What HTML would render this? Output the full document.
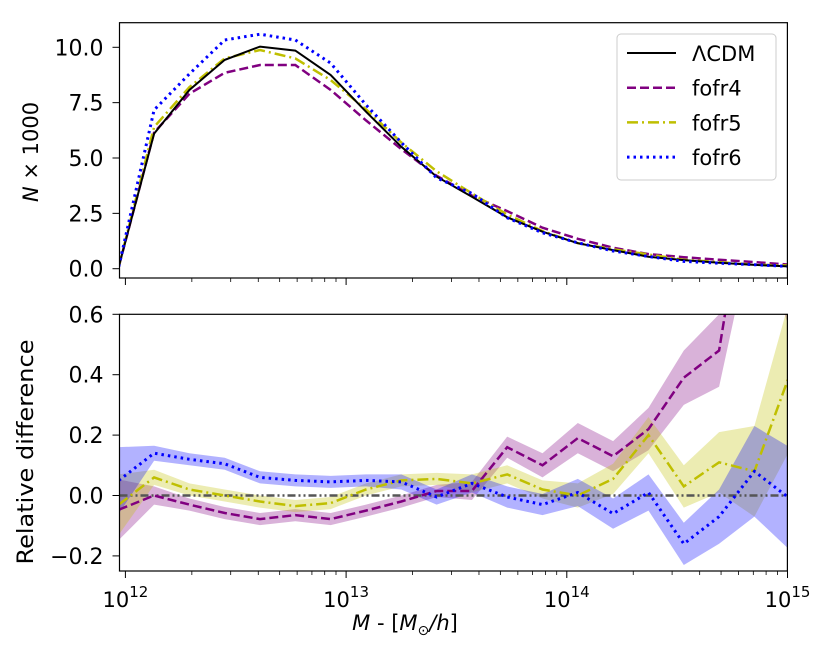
<!DOCTYPE html>
<html><head><meta charset="utf-8"><style>
body{margin:0;background:#fff}
svg{display:block;font-family:"DejaVu Sans","Liberation Sans",sans-serif}
</style></head><body>
<svg id="fig" width="830" height="661" viewBox="0 0 830 661" xmlns="http://www.w3.org/2000/svg">
<defs>
<clipPath id="clipTop"><rect x="119.5" y="22.7" width="668" height="255.3"/></clipPath>
<clipPath id="clipBot"><rect x="119.5" y="314.3" width="668" height="256.7"/></clipPath>
</defs>
<g id="topPanel"></g>
<g id="botPanel"></g>
</svg>
<script>
const logM = [11.97,12.13,12.29,12.45,12.61,12.77,12.93,13.09,13.25,13.41,13.57,13.73,13.89,14.05,14.21,14.37,14.53,14.69,14.85,15.01];
const nLCDM = [0.1,6.1,8.07,9.43,10.03,9.85,8.75,7.09,5.51,4.16,3.25,2.32,1.67,1.15,0.84,0.54,0.39,0.27,0.17,0.10];
const nF4 = [0.1,6.15,7.9,8.85,9.2,9.2,8.07,6.7,5.4,4.2,3.3,2.6,1.85,1.35,0.95,0.66,0.52,0.40,0.30,0.18];
const nF5 = [0.1,6.4,8.2,9.5,9.88,9.5,8.52,7.2,5.7,4.4,3.4,2.45,1.7,1.15,0.88,0.64,0.40,0.30,0.18,0.14];
const nF6 = [0.1,7.17,8.8,10.33,10.59,10.33,9.28,7.4,5.7,4.1,3.4,2.3,1.62,1.17,0.8,0.55,0.33,0.25,0.18,0.1];
const rF4 = [-0.047,0,-0.03,-0.058,-0.078,-0.065,-0.078,-0.05,-0.02,0.015,0.015,0.16,0.1,0.19,0.13,0.22,0.39,0.48,1.2,0.9];
const eF4 = [0.1,0.03,0.02,0.02,0.02,0.02,0.02,0.02,0.02,0.02,0.03,0.035,0.04,0.05,0.05,0.07,0.09,0.12,0.3,0.35];
const rF5 = [-0.03,0.06,0.02,0.0,-0.02,-0.035,-0.025,0.02,0.05,0.055,0.04,0.07,0.02,0.0,0.055,0.2,0.03,0.11,0.08,0.4];
const eF5 = [0.1,0.025,0.02,0.02,0.02,0.02,0.02,0.02,0.02,0.02,0.03,0.03,0.03,0.04,0.05,0.06,0.07,0.1,0.15,0.25];
const rF6 = [0.05,0.14,0.12,0.105,0.06,0.05,0.045,0.05,0.045,-0.005,0.04,-0.005,-0.03,0.01,-0.06,0.01,-0.16,-0.07,0.08,-0.01];
const eF6 = [0.11,0.025,0.02,0.02,0.02,0.02,0.02,0.02,0.025,0.025,0.03,0.035,0.035,0.045,0.05,0.06,0.07,0.09,0.15,0.17];
const topTicks = [0,2.5,5,7.5,10];
const topTickLabels = ["0.0","2.5","5.0","7.5","10.0"];
const botTicks = [-0.2,0,0.2,0.4,0.6];
const botTickLabels = ["\u22120.2","0.0","0.2","0.4","0.6"];
const decades = [12,13,14,15];

const NS="http://www.w3.org/2000/svg";
const X0=119.5,X1=787.4;
const xs = l => 125.4 + 220.7*(l-12);
const yT = v => 268.7 - 22.14*v;
const yB = v => 495.5 - 302*v;
function mk(tag,attrs,parent){const e=document.createElementNS(NS,tag);for(const k in attrs)e.setAttribute(k,attrs[k]);parent.appendChild(e);return e;}
const topG=document.getElementById('topPanel'), botG=document.getElementById('botPanel');

function line(parent,vals,yf,color,dash,w,name,clip){
  const d=vals.map((v,i)=>(i?'L':'M')+xs(logM[i]).toFixed(1)+','+yf(v).toFixed(1)).join('');
  const p=mk('path',{d:d,fill:'none',stroke:color,'stroke-width':w,'clip-path':clip},parent);
  if(dash)p.setAttribute('stroke-dasharray',dash);
  
  
}
function band(parent,vals,errs,color,name){
  let d=vals.map((v,i)=>(i?'L':'M')+xs(logM[i]).toFixed(1)+','+yB(v+errs[i]).toFixed(1)).join('');
  for(let i=vals.length-1;i>=0;i--)d+='L'+xs(logM[i]).toFixed(1)+','+yB(vals[i]-errs[i]).toFixed(1);
  const p=mk('path',{d:d+'Z',fill:color,'fill-opacity':0.3,stroke:'none','clip-path':'url(#clipBot)'},parent);
  
  
}
function xticks(parent,yb,labels){
  decades.forEach(dc=>{
    mk('line',{x1:xs(dc),x2:xs(dc),y1:yb,y2:yb+7,stroke:'#000','stroke-width':1},parent);
    if(labels){
      const t=mk('text',{x:xs(dc),y:607,'text-anchor':'middle','font-size':21},parent);
      
      
      t.innerHTML='10<tspan dy="-10" font-size="15">'+dc+'</tspan>';
    }
    if(dc<15)for(let k=2;k<10;k++){const xx=xs(dc+Math.log10(k));mk('line',{x1:xx,x2:xx,y1:yb,y2:yb+4,stroke:'#000','stroke-width':0.8},parent);}
  });
}
function yticks(parent,ticks,labs,yf){
  ticks.forEach((v,i)=>{
    mk('line',{x1:X0-7,x2:X0,y1:yf(v),y2:yf(v),stroke:'#000','stroke-width':1},parent);
    const t=mk('text',{x:X0-16,y:yf(v)+8,'text-anchor':'end','font-size':22},parent);
    
    
    t.textContent=labs[i];
  });
}
// top panel
line(topG,nF4,yT,'#800080','9,4',2.5,'line-fofr4','url(#clipTop)');
line(topG,nF5,yT,'#bfbf00','11,4,2,4',2.5,'line-fofr5','url(#clipTop)');
line(topG,nLCDM,yT,'#000','',2,'line-lcdm','url(#clipTop)');
line(topG,nF6,yT,'#0000ff','2.5,4',3,'line-fofr6','url(#clipTop)');
mk('rect',{x:X0,y:22.7,width:X1-X0,height:255.3,fill:'none',stroke:'#000','stroke-width':1.2},topG);
xticks(topG,278,false); yticks(topG,topTicks,topTickLabels,yT);
const yl1=mk('text',{x:0,y:0,'text-anchor':'middle','font-size':21,transform:'translate(38,152) rotate(-90)'},topG);


yl1.innerHTML='<tspan font-style="italic">N</tspan> × 1000';
// legend
const lg=mk('g',{},topG);


mk('rect',{x:617,y:34,width:159,height:146,rx:4,fill:'#fff','fill-opacity':0.8,stroke:'#ccc','stroke-width':1},lg);
const lgItems=[['ΛCDM','#000','',2],['fofr4','#800080','9,4',2.5],['fofr5','#bfbf00','11,4,2,4',2.5],['fofr6','#0000ff','2.5,4',3]];
lgItems.forEach((it,i)=>{
  const yy=53+i*34.7;
  const ln=mk('line',{x1:627,x2:676,y1:yy,y2:yy,stroke:it[1],'stroke-width':it[3]},lg);
  if(it[2])ln.setAttribute('stroke-dasharray',it[2]);
  const t=mk('text',{x:692,y:yy+8,'font-size':21},lg);
  
  
  t.textContent=it[0];
});
// bottom panel
band(botG,rF4,eF4,'#800080','band-fofr4');
band(botG,rF5,eF5,'#bfbf00','band-fofr5');
band(botG,rF6,eF6,'#0000ff','band-fofr6');
const zl=mk('line',{x1:X0,x2:X1,y1:yB(0),y2:yB(0),stroke:'#555','stroke-width':2.5,'stroke-dasharray':'8,3,2,3,2,3'},botG);


line(botG,rF4,yB,'#800080','9,4',2.5,'diff-fofr4','url(#clipBot)');
line(botG,rF5,yB,'#bfbf00','11,4,2,4',2.5,'diff-fofr5','url(#clipBot)');
line(botG,rF6,yB,'#0000ff','2.5,4',3,'diff-fofr6','url(#clipBot)');
mk('rect',{x:X0,y:314.3,width:X1-X0,height:256.7,fill:'none',stroke:'#000','stroke-width':1.2},botG);
xticks(botG,571,true); yticks(botG,botTicks,botTickLabels,yB);
const yl2=mk('text',{x:0,y:0,'text-anchor':'middle','font-size':22,textLength:225,lengthAdjust:'spacingAndGlyphs',transform:'translate(33,452) rotate(-90)'},botG);


yl2.textContent='Relative difference';
const xl=mk('text',{x:405,y:630,'text-anchor':'middle','font-size':21},botG);


xl.innerHTML='<tspan font-style="italic">M</tspan> - [<tspan font-style="italic">M</tspan><tspan font-size="14" dy="5">⊙</tspan><tspan dy="-5" font-style="italic">/h</tspan>]';
</script>
</body></html>
